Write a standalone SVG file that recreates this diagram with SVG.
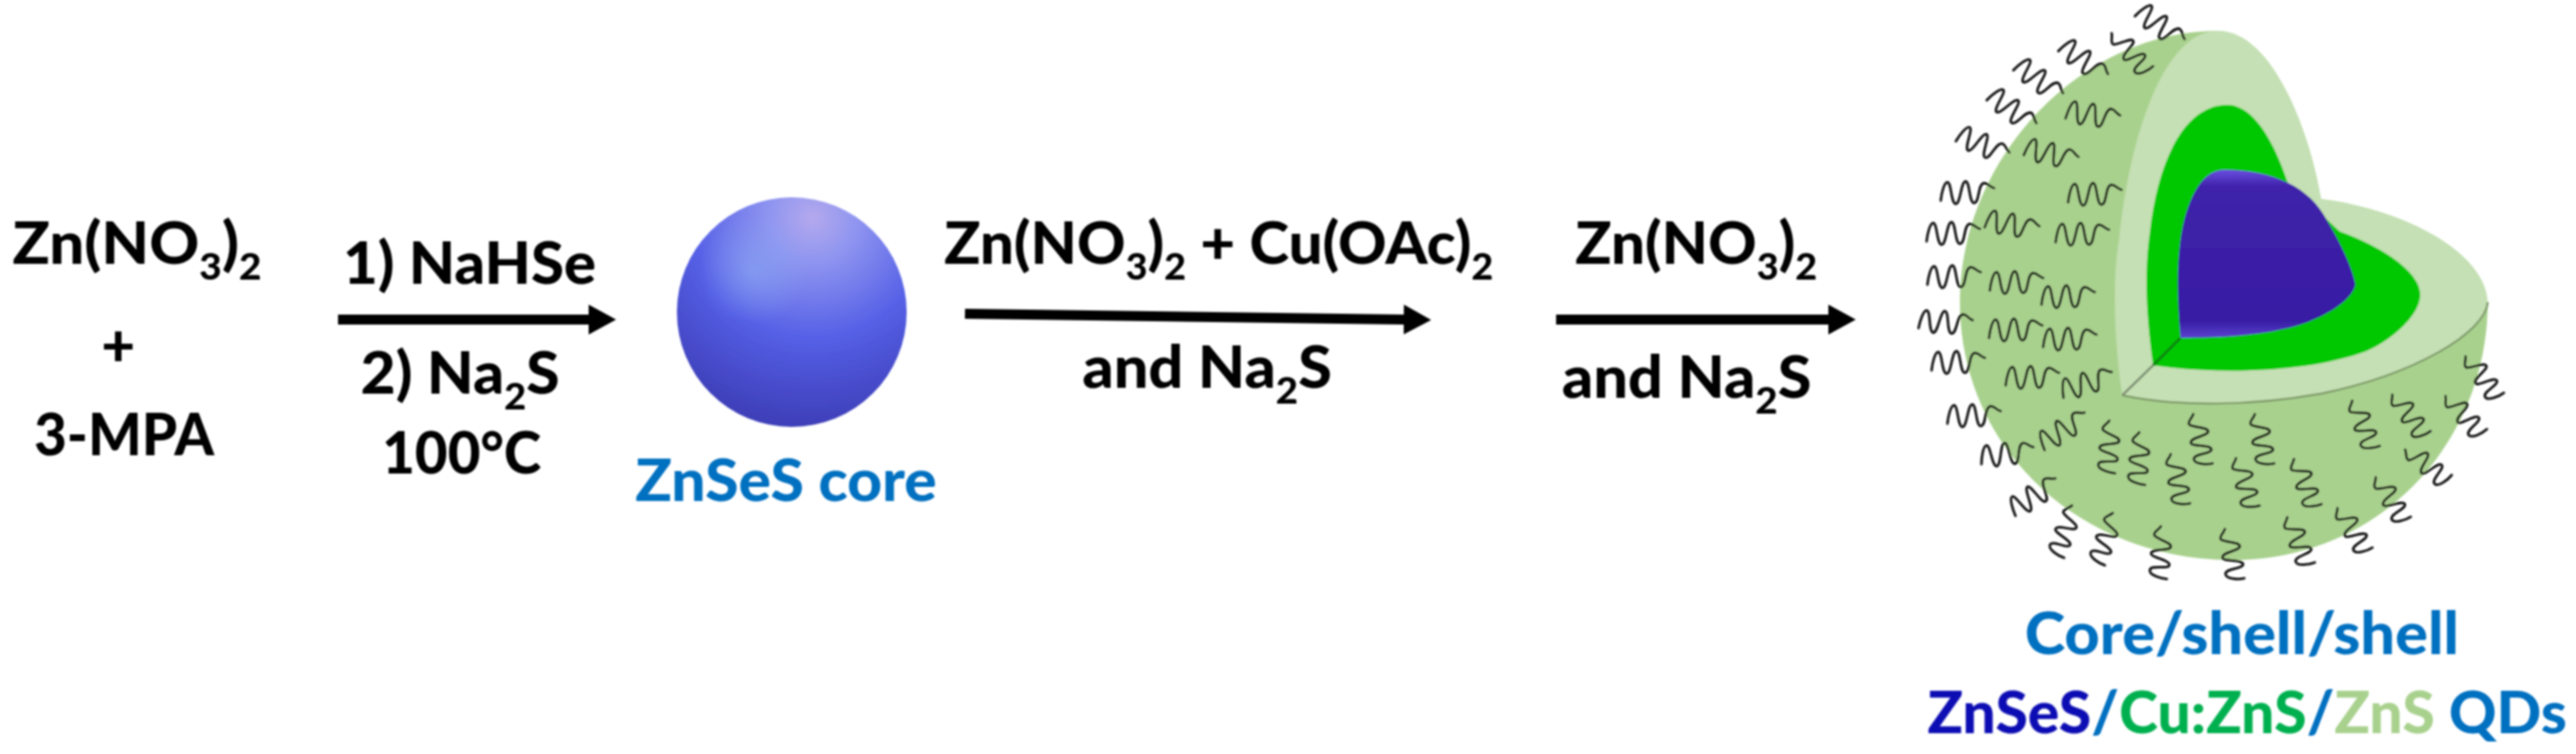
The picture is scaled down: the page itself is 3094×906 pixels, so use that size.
<svg xmlns="http://www.w3.org/2000/svg" width="3094" height="906" viewBox="0 0 3094 906">
<style>
.t{font-family:"Lato","Carlito","Liberation Sans",sans-serif;font-weight:900;font-size:70px;fill:#000}
.b{fill:#0070c0}
.lig{fill:none;stroke:#111;stroke-width:3;stroke-linecap:round}
.arr{stroke:#000;stroke-width:12;fill:none;marker-end:url(#head)}
</style>
<defs>
<marker id="head" markerUnits="userSpaceOnUse" markerWidth="34" markerHeight="36" viewBox="0 0 34 36" refX="1" refY="18" orient="auto"><polygon points="0,0 33,18 0,36" fill="#000"/></marker>
<radialGradient id="ball" gradientUnits="userSpaceOnUse" cx="976" cy="262" r="290">
<stop offset="0" stop-color="#b4a9ee"/><stop offset="0.18" stop-color="#8f95f0"/><stop offset="0.5" stop-color="#5560e6"/><stop offset="0.8" stop-color="#4244c0"/><stop offset="1" stop-color="#3636a8"/>
</radialGradient>
<radialGradient id="glow" gradientUnits="userSpaceOnUse" cx="905" cy="325" r="65"><stop offset="0" stop-color="#8fb0f5" stop-opacity="0.55"/><stop offset="1" stop-color="#8fb0f5" stop-opacity="0"/></radialGradient>
<linearGradient id="core" x1="0" y1="0" x2="0" y2="1"><stop offset="0" stop-color="#6a4fe0"/><stop offset="0.1" stop-color="#3f22aa"/><stop offset="0.9" stop-color="#381da4"/><stop offset="1" stop-color="#5a42d0"/></linearGradient>
<path id="a" class="lig" d="M-32 9C-31 0-28-13-24-13C-19-13-20 12-14 13C-8 13-8-14-2-14C3-14 2 12 8 12C15 12 12-11 20-12C25-12 27-7 32-6"/>
<path id="c" class="lig" d="M-6-31C-8-26-14-23-12-19C-8-15 10-14 10-9C10-3-12-4-12 3C-12 8 12 7 12 13C12 19-10 16-10 23C-10 29 5 31 12 30"/>
<filter id="soft" x="-2%" y="-2%" width="104%" height="104%"><feGaussianBlur stdDeviation="0.9"/></filter>
</defs>
<g filter="url(#soft)">
<g id="connectors">
<path class="arr" d="M406 384H708"/>
<path class="arr" d="M1159 377L1687 384"/>
<path class="arr" d="M1869 384H2197"/>
</g>
<g id="reagents">
<text class="t" transform="translate(15 317) scale(1.06 1)">Zn(NO<tspan font-size="44" dy="19">3</tspan><tspan dy="-19">)</tspan><tspan font-size="44" dy="19">2</tspan></text>
<text class="t" x="142" y="440" text-anchor="middle">+</text>
<text class="t" transform="translate(41 547) scale(.97 1)">3-MPA</text>
</g>
<g id="step1">
<text class="t" transform="translate(412 341) scale(1.03 1)">1) NaHSe</text>
<text class="t" transform="translate(433 473) scale(1.04 1)">2) Na<tspan font-size="44" dy="19">2</tspan><tspan dy="-19">S</tspan></text>
<text class="t" transform="translate(459 569) scale(.97 1)">100°C</text>
</g>
<g id="core-sphere">
<circle cx="951" cy="375" r="138" fill="url(#ball)"/>
<circle cx="905" cy="325" r="65" fill="url(#glow)"/>
<text class="t b" transform="translate(763 602) scale(1.04 1)">ZnSeS core</text>
</g>
<g id="step2">
<text class="t" transform="translate(1134 317) scale(1.03 1)">Zn(NO<tspan font-size="44" dy="19">3</tspan><tspan dy="-19">)</tspan><tspan font-size="44" dy="19">2</tspan><tspan dy="-19"> + Cu(OAc)</tspan><tspan font-size="44" dy="19">2</tspan></text>
<text class="t" transform="translate(1300 466) scale(1.05 1)">and Na<tspan font-size="44" dy="19">2</tspan><tspan dy="-19">S</tspan></text>
</g>
<g id="step3">
<text class="t" transform="translate(1892 317) scale(1.03 1)">Zn(NO<tspan font-size="44" dy="19">3</tspan><tspan dy="-19">)</tspan><tspan font-size="44" dy="19">2</tspan></text>
<text class="t" transform="translate(1876 478) scale(1.05 1)">and Na<tspan font-size="44" dy="19">2</tspan><tspan dy="-19">S</tspan></text>
</g>
<g id="qd">
<path d="M2664 37C2500 37 2354 190 2354 363C2354 540 2500 673 2681 673C2860 673 2988 530 2988 363L2788 239Z" fill="#a9d18e"/>
<path d="M2549 475C2538 400 2538 330 2545 290C2558 160 2600 37 2664 37C2730 37 2775 160 2788 239C2880 250 2985 300 2988 363C2985 400 2900 450 2788 473C2710 487 2620 490 2549 475Z" fill="#c5e0b4"/>
<path d="M2549 475C2620 490 2710 487 2788 473C2900 450 2985 400 2988 363" fill="none" stroke="#7d9a68" stroke-width="2.5"/>
<path d="M2586 439C2578 380 2575 330 2582 280C2592 190 2625 126 2675 126C2710 126 2735 180 2748 220L2810 278C2870 300 2907 330 2907 354C2907 380 2870 410 2842 422C2780 445 2680 452 2586 439Z" fill="#00c800"/>
<path d="M2549 475L2586 439" stroke="#7d8f72" stroke-width="3" fill="none"/>
<path d="M2586 439L2619 406" stroke="#0a7a10" stroke-width="3" fill="none"/>
<path d="M2619 406C2614 350 2614 300 2624 262C2632 235 2645 204 2672 204C2730 204 2775 225 2795 265C2810 290 2825 320 2829 342C2825 362 2790 382 2760 391C2720 403 2670 406 2619 406Z" fill="url(#core)"/>
</g>
<g id="ligands">
<use href="#a" transform="translate(2595 32) rotate(38)"/>
<use href="#c" transform="translate(2559 62) rotate(-35)"/>
<use href="#a" transform="translate(2503 74) rotate(38)"/>
<use href="#a" transform="translate(2449 97) rotate(38)"/>
<use href="#a" transform="translate(2417 133) rotate(38)"/>
<use href="#a" transform="translate(2382 175) rotate(25)"/>
<use href="#a" transform="translate(2514 139) rotate(10)"/>
<use href="#a" transform="translate(2464 186) rotate(15)"/>
<use href="#a" transform="translate(2363 232)"/>
<use href="#a" transform="translate(2516 234)"/>
<use href="#a" transform="translate(2346 281)"/>
<use href="#a" transform="translate(2417 271) rotate(12)"/>
<use href="#a" transform="translate(2501 282)"/>
<use href="#a" transform="translate(2347 333)"/>
<use href="#a" transform="translate(2422 340)"/>
<use href="#a" transform="translate(2484 357)"/>
<use href="#a" transform="translate(2337 388) rotate(5)"/>
<use href="#a" transform="translate(2421 397)"/>
<use href="#a" transform="translate(2486 408)"/>
<use href="#a" transform="translate(2352 436)"/>
<use href="#a" transform="translate(2441 454)"/>
<use href="#a" transform="translate(2507 461) rotate(-15)"/>
<use href="#a" transform="translate(2371 500)"/>
<use href="#a" transform="translate(2479 517) rotate(-30)"/>
<use href="#a" transform="translate(2411 546) rotate(-5)"/>
<use href="#a" transform="translate(2444 596) rotate(-30)"/>
<use href="#c" transform="translate(2534 537) rotate(10)"/>
<use href="#c" transform="translate(2570 551) rotate(10)"/>
<use href="#c" transform="translate(2616 576) rotate(-5)"/>
<use href="#c" transform="translate(2643 528) rotate(-5)"/>
<use href="#c" transform="translate(2717 528) rotate(-5)"/>
<use href="#c" transform="translate(2697 580) rotate(-10)"/>
<use href="#c" transform="translate(2769 580) rotate(-15)"/>
<use href="#c" transform="translate(2839 510) rotate(-15)"/>
<use href="#c" transform="translate(2894 498) rotate(-30)"/>
<use href="#c" transform="translate(2960 498) rotate(-35)"/>
<use href="#c" transform="translate(2982 452) rotate(-30)"/>
<use href="#c" transform="translate(2915 558) rotate(-45)"/>
<use href="#c" transform="translate(2872 599) rotate(-25)"/>
<use href="#c" transform="translate(2826 636) rotate(-25)"/>
<use href="#c" transform="translate(2761 650) rotate(-15)"/>
<use href="#c" transform="translate(2681 666) rotate(-5)"/>
<use href="#c" transform="translate(2596 664) rotate(10)"/>
<use href="#c" transform="translate(2530 647) rotate(25)"/>
<use href="#c" transform="translate(2481 638) rotate(25)"/>
</g>
<g id="qd-label">
<text class="t b" transform="translate(2432 786) scale(1.05 1)">Core/shell/shell</text>
<text class="t" transform="translate(2315 881) scale(1.01 1)"><tspan fill="#1010b4">ZnSeS</tspan><tspan fill="#0070c0">/</tspan><tspan fill="#00b050">Cu:ZnS</tspan><tspan fill="#0070c0">/</tspan><tspan fill="#a9d18e">ZnS</tspan><tspan fill="#0070c0"> QDs</tspan></text>
</g>
</g>
</svg>
